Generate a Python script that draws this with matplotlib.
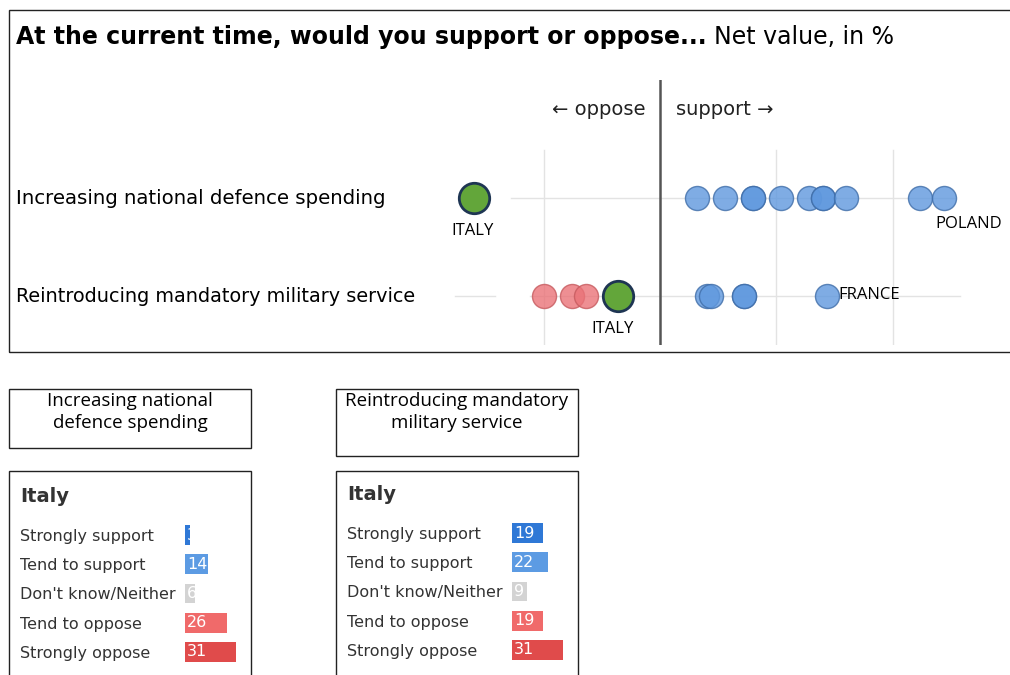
import matplotlib
matplotlib.use("Agg")
import matplotlib.pyplot as plt
from matplotlib.patches import Rectangle

# ---------------- data ----------------
rows = ["Increasing national defence spending", "Reintroducing mandatory military service"]
defence_others = [8, 14, 20, 20, 26, 32, 35, 35, 40, 56, 61]
defence_italy = -40
military_others = [-25, -19, -16, 10, 11, 18, 18, 36]
military_italy = -9
grid_ticks = [-25, 25, 50]

answer_labels = ["Strongly support", "Tend to support", "Don't know/Neither",
                 "Tend to oppose", "Strongly oppose"]
italy_defence = [3, 14, 6, 26, 31]
italy_military = [19, 22, 9, 19, 31]
answer_colors = ["#2f78d6", "#5c9be3", "#d3d3d3", "#f06a6a", "#e04b4b"]

W, H = 1010, 675
fig = plt.figure(figsize=(W / 100, H / 100), dpi=100)

def fx(px):
    return px / W

def fy(py):
    return 1 - py / H

def add_axes_px(x0, y0, x1, y1):
    return fig.add_axes([fx(x0), fy(y1), fx(x1) - fx(x0), fy(y0) - fy(y1)])

def box_px(x0, y0, x1, y1, lw=1.0):
    fig.add_artist(Rectangle((fx(x0), fy(y1)), fx(x1) - fx(x0), fy(y0) - fy(y1),
                             transform=fig.transFigure, fill=False,
                             edgecolor="#222222", linewidth=lw))

MAIN = "DejaVu Sans"
CAL = "Open Sans"

# ---------------- top box ----------------
box_px(9, 10, 1020, 352, lw=1.0)
t = fig.text(fx(16), fy(37), "At the current time, would you support or oppose...",
             fontsize=17, fontweight="bold", family=MAIN, va="center", ha="left")
fig.canvas.draw()
bb = t.get_window_extent()
fig.text(bb.x1 / W + fx(7), fy(37), "Net value, in %", fontsize=17,
         family=MAIN, va="center", ha="left")

ax = add_axes_px(440, 80, 1010, 345)
px_per_unit = 4.65
zero_px = 660
ax.set_xlim((440 - zero_px) / px_per_unit, (1010 - zero_px) / px_per_unit)
row_y = [1, 0]
ax.set_ylim(-0.5, 1 + (198 - 80) / 98)
ax.axis("off")

# grid
for g in grid_ticks:
    ax.plot([g, g], [-0.5, 1.49], color="#e3e3e3", lw=1.0, zorder=0)
ax.plot([-32, 63.5], [1, 1], color="#e3e3e3", lw=1.0, zorder=0)
ax.plot([-44, -35.5], [0, 0], color="#e3e3e3", lw=1.0, zorder=0)
ax.plot([-28, 64.5], [0, 0], color="#e3e3e3", lw=1.0, zorder=0)
ax.plot([0, 0], [-0.5, 2.2], color="#555555", lw=1.8, zorder=1)

ax.text(-3.2, 1.9, "\u2190 oppose", ha="right", va="center", fontsize=14,
        family=MAIN, color="#222222")
ax.text(3.4, 1.9, "support \u2192", ha="left", va="center", fontsize=14,
        family=MAIN, color="#222222")

blue, blue_edge = "#5f98de", "#3f6da8"
red, red_edge = "#ea7378", "#c65a5e"
green, green_edge = "#63a63a", "#1e3553"

for yv, others, italy in [(row_y[0], defence_others, defence_italy),
                          (row_y[1], military_others, military_italy)]:
    pos = [v for v in others if v >= 0]
    neg = [v for v in others if v < 0]
    ax.scatter(pos, [yv] * len(pos), s=300, color=blue, alpha=0.8,
               edgecolors=blue_edge, linewidths=1.0, zorder=3)
    ax.scatter(neg, [yv] * len(neg), s=300, color=red, alpha=0.8,
               edgecolors=red_edge, linewidths=1.0, zorder=3)
    ax.scatter([italy], [yv], s=480, color=green, edgecolors=green_edge,
               linewidths=2.0, zorder=4)

ax.annotate("ITALY", (defence_italy, row_y[0]), xytext=(-1, -24),
            textcoords="offset points", ha="center", va="center",
            fontsize=12, family=CAL)
ax.annotate("POLAND", (max(defence_others), row_y[0]), xytext=(-6, -19),
            textcoords="offset points", ha="left", va="center",
            fontsize=12, family=CAL)
ax.annotate("ITALY", (military_italy, row_y[1]), xytext=(-4, -24),
            textcoords="offset points", ha="center", va="center",
            fontsize=12, family=CAL)
ax.annotate("FRANCE", (max(military_others), row_y[1]), xytext=(8, 1),
            textcoords="offset points", ha="left", va="center",
            fontsize=12, family=CAL)

fig.text(fx(16), fy(198), rows[0], fontsize=14.2, family=MAIN, va="center", ha="left")
fig.text(fx(16), fy(296), rows[1], fontsize=13.9, family=MAIN, va="center", ha="left")

# ---------------- bottom header boxes ----------------
box_px(9, 389, 251, 448)
fig.text(fx(130), fy(412), "Increasing national\ndefence spending", ha="center",
         va="center", fontsize=13.5, family=CAL, linespacing=1.35)
box_px(336, 389, 578, 456)
fig.text(fx(457), fy(412), "Reintroducing mandatory\nmilitary service", ha="center",
         va="center", fontsize=13.5, family=CAL, linespacing=1.35)

# ---------------- bottom panels ----------------
def panel(x0, top, values, first_row_y):
    box_px(x0, top, x0 + 242, 680)
    fig.text(fx(x0 + 11), fy(first_row_y - 39), "Italy", fontsize=14,
             fontweight="bold", family=MAIN, va="center", ha="left", color="#333333")
    bar_x = x0 + 176
    step = 29.25
    pax = add_axes_px(bar_x, first_row_y - step / 2, bar_x + 62, first_row_y + 4.5 * step)
    unit = 1.63
    pax.set_xlim(0, 62 / unit)
    idx = list(range(len(values)))
    pax.set_ylim(len(values) - 0.5, -0.5)
    pax.barh(idx, values, height=0.68, color=answer_colors, zorder=2)
    for i, v in enumerate(values):
        pax.text(1.2, i, str(v), color="white", va="center", ha="left",
                 fontsize=11.5, family=MAIN, zorder=3)
    pax.set_yticks(idx)
    pax.set_yticklabels(answer_labels, family=MAIN, fontsize=11.5, color="#333333")
    for lab in pax.get_yticklabels():
        lab.set_horizontalalignment("left")
    pax.tick_params(axis="y", length=0, pad=(176 - 11) * 0.72)
    pax.set_xticks([])
    for s in pax.spines.values():
        s.set_visible(False)
    pax.patch.set_alpha(0)

panel(9, 471, italy_defence, 535)
panel(336, 471, italy_military, 533)

fig.savefig("out.png", dpi=100)
